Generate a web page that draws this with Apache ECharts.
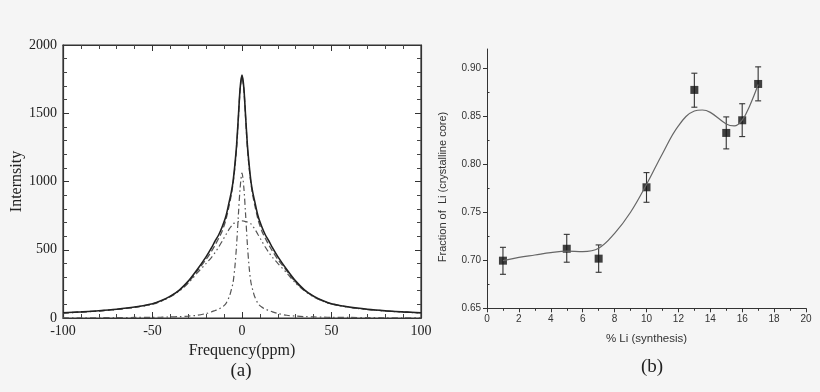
<!DOCTYPE html>
<html>
<head>
<meta charset="utf-8">
<script src="https://cdn.jsdelivr.net/npm/echarts@6/dist/echarts.min.js"></script>
<style>
html,body{margin:0;padding:0;background:#f5f5f5;}
#chart{width:820px;height:392px;}
</style>
</head>
<body>
<div id="chart"></div>
<script>
// ---------- Panel (a): NMR spectrum ----------
const freqPpm = [-100,-90,-80,-70,-60,-50,-45,-40,-35,-30,-25,-20,-17,-15,-13,-11,-9,-7,-6,-5,-4,-3,-2,-1,0,1,2,3,4,5,6,7,9,11,13,15,17,20,25,30,35,40,45,50,60,70,80,90,100];
const intensityMeasured = [38,45,53,64,80,105,128,160,205,270,355,450,515,565,610,670,745,860,920,1000,1120,1270,1480,1690,1780,1690,1480,1270,1120,1000,920,860,745,670,610,565,515,450,355,270,205,160,128,105,80,64,53,45,38];
const intensityFit = [37,44,52,63,79,103,126,158,203,262,345,430,490,535,585,640,720,835,900,985,1100,1250,1470,1680,1765,1680,1470,1250,1100,985,900,835,720,640,585,535,490,430,345,262,203,158,126,103,79,63,52,44,37];
const intensityBroad = [36,43,51,62,78,101,124,155,198,255,330,400,445,480,520,565,610,655,672,690,697,703,707,710,712,710,707,703,697,690,672,655,610,565,520,480,445,400,330,255,198,155,124,101,78,62,51,43,36];
const intensityNarrow = [1,2,2,3,4,5,6,8,10,14,20,33,45,55,65,80,105,160,205,260,370,540,760,960,1062,960,760,540,370,260,205,160,105,80,65,55,45,33,20,14,10,8,6,5,4,3,2,2,1];
const ticksA_x = {min:-100, max:100, interval:50};
const ticksA_y = {min:0, max:2000, interval:500};

// ---------- Panel (b): Li fraction ----------
const liPercent = [1,5,7,10,13,15,16,17];
const liFraction = [0.6996,0.712,0.7017,0.776,0.8774,0.8326,0.8458,0.8836];
const liErrLow = [0.6854,0.698,0.6875,0.7604,0.8594,0.816,0.8288,0.866];
const liErrHigh = [0.7135,0.727,0.716,0.7913,0.8948,0.8493,0.863,0.9014];
const fitX = [1,2,3,4,5,6,7,8,9,10,11,12,13,13.5,14,15,15.5,16,16.5,17];
const fitY = [0.6996,0.703,0.7055,0.708,0.7095,0.709,0.7125,0.728,0.750,0.779,0.811,0.840,0.8555,0.8565,0.854,0.842,0.840,0.846,0.862,0.883];
const yTicksB = [0.65,0.70,0.75,0.80,0.85,0.90];
const yMinorB = [0.675,0.725,0.775,0.825,0.875];

const zip = (a,b) => a.map((v,i)=>[v,b[i]]);

const serif = 'Liberation Serif';
const sans = 'Liberation Sans';

const chart = echarts.init(document.getElementById('chart'), null, {renderer:'canvas'});

const axA_label = {color:'#222', fontFamily:serif, fontSize:14, formatter:v=>String(v)};

const option = {
  backgroundColor:'#f5f5f5',
  animation:false,
  grid:[
    {left:63, top:45, width:358, height:273, show:true, backgroundColor:'#ffffff', borderColor:'#333', borderWidth:1.2},
    {left:487, top:49, width:319, height:259.3}
  ],
  xAxis:[
    {gridIndex:0, type:'value', min:ticksA_x.min, max:ticksA_x.max, interval:ticksA_x.interval,
     name:'Frequency(ppm)', nameLocation:'middle', nameGap:22,
     nameTextStyle:{fontFamily:serif, fontSize:16, color:'#222', verticalAlign:'top'},
     axisLine:{show:true, onZero:false, lineStyle:{color:'#333', width:1.2}},
     axisTick:{show:true, inside:true, length:6, lineStyle:{color:'#333'}},
     minorTick:{show:true, splitNumber:5, length:4, lineStyle:{color:'#444'}},
     axisLabel:Object.assign({margin:6}, axA_label),
     splitLine:{show:false}},
    {gridIndex:0, type:'value', position:'top', min:ticksA_x.min, max:ticksA_x.max, interval:ticksA_x.interval,
     axisLine:{show:true, onZero:false, lineStyle:{color:'#333', width:1.2}},
     axisTick:{show:true, inside:true, length:6, lineStyle:{color:'#333'}},
     minorTick:{show:true, splitNumber:5, length:4, lineStyle:{color:'#444'}},
     axisLabel:{show:false}, splitLine:{show:false}},
    {gridIndex:1, type:'value', min:0, max:20, interval:2,
     name:'% Li (synthesis)', nameLocation:'middle', nameGap:25,
     nameTextStyle:{fontFamily:sans, fontSize:11.5, color:'#333', verticalAlign:'top'},
     axisLine:{show:true, onZero:false, lineStyle:{color:'#333', width:1}},
     axisTick:{show:true, inside:false, length:4, lineStyle:{color:'#333'}},
     minorTick:{show:true, splitNumber:2, length:2.5, lineStyle:{color:'#333'}},
     axisLabel:{color:'#333', fontFamily:sans, fontSize:10, margin:6},
     splitLine:{show:false}}
  ],
  yAxis:[
    {gridIndex:0, type:'value', min:ticksA_y.min, max:ticksA_y.max, interval:ticksA_y.interval,
     name:'Internsity', nameLocation:'middle', nameGap:38,
     nameTextStyle:{fontFamily:serif, fontSize:16, color:'#222'},
     axisLine:{show:true, onZero:false, lineStyle:{color:'#333', width:1.2}},
     axisTick:{show:true, inside:true, length:6, lineStyle:{color:'#333'}},
     minorTick:{show:true, splitNumber:5, length:4, lineStyle:{color:'#444'}},
     axisLabel:Object.assign({margin:6}, axA_label),
     splitLine:{show:false}},
    {gridIndex:0, type:'value', position:'right', min:ticksA_y.min, max:ticksA_y.max, interval:ticksA_y.interval,
     axisLine:{show:true, onZero:false, lineStyle:{color:'#333', width:1.2}},
     axisTick:{show:true, inside:true, length:6, lineStyle:{color:'#333'}},
     minorTick:{show:true, splitNumber:5, length:4, lineStyle:{color:'#444'}},
     axisLabel:{show:false}, splitLine:{show:false}},
    {gridIndex:1, type:'value', min:0.65, max:0.92,
     axisLine:{show:true, onZero:false, lineStyle:{color:'#333', width:1}},
     axisTick:{show:true, inside:false, length:4, customValues:yTicksB, lineStyle:{color:'#333'}},
     axisLabel:{color:'#333', fontFamily:sans, fontSize:10, margin:6, customValues:yTicksB,
                formatter:v=>v.toFixed(2)},
     splitLine:{show:false}},
    {gridIndex:1, type:'value', min:0.65, max:0.92,
     axisLine:{show:false},
     axisTick:{show:true, inside:false, length:2.5, customValues:yMinorB, lineStyle:{color:'#333'}},
     axisLabel:{show:false, customValues:yMinorB},
     splitLine:{show:false}}
  ],
  graphic:[
    {type:'text', x:241, y:371, style:{text:'(a)', font:'19px "Liberation Serif"', fill:'#222', align:'center', verticalAlign:'middle'}},
    {type:'text', x:652, y:367, style:{text:'(b)', font:'19px "Liberation Serif"', fill:'#222', align:'center', verticalAlign:'middle'}},
    {type:'text', x:443, y:187, rotation:Math.PI/2, style:{text:'Fraction of  Li (crystalline core)', font:'11px "Liberation Sans"', fill:'#333', align:'center', verticalAlign:'middle'}}
  ],
  series:[
    {type:'line', xAxisIndex:0, yAxisIndex:0, data:zip(freqPpm,intensityBroad), showSymbol:false, smooth:0.3,
     lineStyle:{color:'#555', width:1.2, type:[6,3,1.5,3,1.5,3]}},
    {type:'line', xAxisIndex:0, yAxisIndex:0, data:zip(freqPpm,intensityNarrow), showSymbol:false, smooth:0.3,
     lineStyle:{color:'#555', width:1.2, type:[6,3,1.5,3]}},
    {type:'line', xAxisIndex:0, yAxisIndex:0, data:zip(freqPpm,intensityFit), showSymbol:false, smooth:0.3,
     lineStyle:{color:'#555', width:1.3, type:[6,3]}},
    {type:'line', xAxisIndex:0, yAxisIndex:0, data:zip(freqPpm,intensityMeasured), showSymbol:false, smooth:0.3,
     lineStyle:{color:'#222', width:1.6}},

    {type:'line', xAxisIndex:2, yAxisIndex:2, data:zip(fitX,fitY), showSymbol:false, smooth:0.4,
     lineStyle:{color:'#666', width:1.2}},
    {type:'custom', xAxisIndex:2, yAxisIndex:2,
     data:liPercent.map((x,i)=>[x, liErrLow[i], liErrHigh[i]]),
     encode:{x:0, y:[1,2]},
     renderItem:function(params, api){
       const x = api.value(0);
       const lo = api.coord([x, api.value(1)]);
       const hi = api.coord([x, api.value(2)]);
       const w = 3;
       const st = {stroke:'#333', lineWidth:1.1};
       return {type:'group', children:[
         {type:'line', shape:{x1:lo[0], y1:lo[1], x2:hi[0], y2:hi[1]}, style:st},
         {type:'line', shape:{x1:hi[0]-w, y1:hi[1], x2:hi[0]+w, y2:hi[1]}, style:st},
         {type:'line', shape:{x1:lo[0]-w, y1:lo[1], x2:lo[0]+w, y2:lo[1]}, style:st}
       ]};
     }},
    {type:'scatter', xAxisIndex:2, yAxisIndex:2, data:zip(liPercent,liFraction),
     symbol:'rect', symbolSize:8, itemStyle:{color:'#111'}}
  ]
};
chart.setOption(option);
</script>
</body>
</html>
